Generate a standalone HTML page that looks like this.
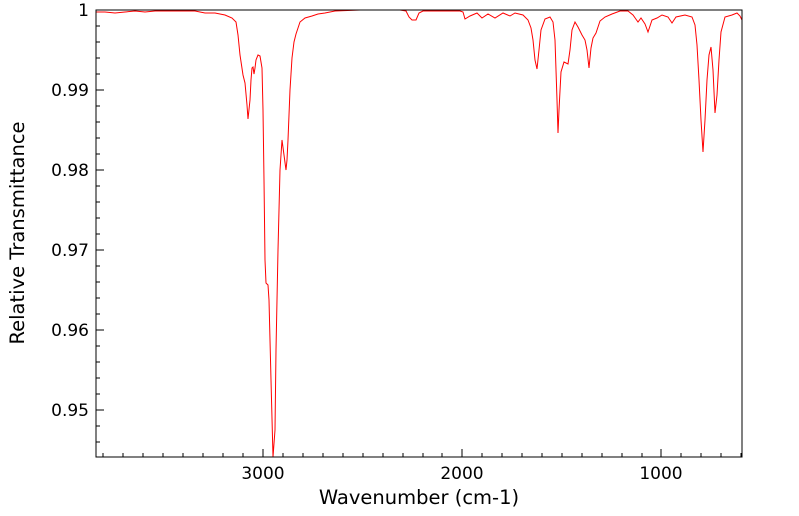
<!DOCTYPE html>
<html><head><meta charset="utf-8"><style>
body{margin:0;background:#fff;}
svg{display:block;font-family:"DejaVu Sans","Liberation Sans",sans-serif;}
</style></head><body>
<svg width="799" height="516" viewBox="0 0 799 516">
<g stroke="#000" stroke-width="1">
<path d="M96 26h4M96 42h4M96 58h4M96 74h4M96 106h4M96 122h4M96 138h4M96 154h4M96 186h4M96 202h4M96 218h4M96 234h4M96 266h4M96 282h4M96 298h4M96 314h4M96 346h4M96 362h4M96 378h4M96 394h4M96 426h4M96 442h4"/>
<path d="M96 10h8M96 90h8M96 170h8M96 250h8M96 330h8M96 410h8"/>
<path d="M263 457v-8M462 457v-8M661 457v-8"/>
<path d="M103 457v-4M123 457v-4M143 457v-4M163 457v-4M183 457v-4M203 457v-4M223 457v-4M243 457v-4M283 457v-4M303 457v-4M323 457v-4M343 457v-4M363 457v-4M383 457v-4M403 457v-4M423 457v-4M442 457v-4M482 457v-4M502 457v-4M522 457v-4M542 457v-4M562 457v-4M582 457v-4M602 457v-4M622 457v-4M642 457v-4M681 457v-4M701 457v-4M721 457v-4M741 457v-4"/>
</g>
<polyline fill="none" stroke="#ff0000" stroke-width="1" points="96,12 105,12 115,13 125,12 135,11 145,12 155,11 165,11 175,11 185,11 195,11 205,13 215,13 225,15 232,18 236,22 238,35 240,55 243,75 245,83 247,105 248,119 250,100 251,80 252,68 253,67 254,74 255,68 256,60 258,55 260,56 262,68 263,110 264,180 265,260 266,283 268,285 269,300 271,380 273,457 275,430 276,350 278,250 280,170 282,140 284,155 286,170 287,160 288,140 290,90 292,58 294,42 296,34 300,22 305,18 312,16 318,14 325,13 335,11 360,10 400,10 406,11 409,17 412,20 416,20 419,13 423,11 460,11 463,12 465,19 470,16 477,13 482,18 488,14 495,18 503,13 510,16 515,13 523,15 528,20 531,28 533,40 535,60 537,69 539,50 541,30 545,19 550,17 553,22 555,40 557,100 558,133 559,110 561,72 564,62 568,64 570,50 572,30 575,22 578,27 582,35 585,40 587,50 589,68 591,48 593,38 596,33 600,21 605,17 612,14 620,11 628,11 633,15 638,22 641,18 645,24 648,32 652,20 657,18 662,15 668,17 672,23 676,17 685,15 692,17 695,25 697,45 699,80 701,120 703,152 705,120 707,80 709,55 711,47 713,70 715,113 717,95 719,60 721,32 725,17 732,15 737,13 740,16 742,20"/>
<rect x="96" y="10" width="646" height="447" fill="none" stroke="#000" stroke-width="1"/>
<g font-size="17" fill="#000" text-anchor="end">
<text x="89" y="16">1</text>
<text x="89" y="96">0.99</text>
<text x="89" y="176">0.98</text>
<text x="89" y="256">0.97</text>
<text x="89" y="336">0.96</text>
<text x="89" y="416">0.95</text>
</g>
<g font-size="17" fill="#000" text-anchor="middle">
<text x="263" y="479">3000</text>
<text x="462" y="479">2000</text>
<text x="661" y="479">1000</text>
</g>
<g font-size="19.5" fill="#000" text-anchor="middle">
<text x="419" y="504">Wavenumber (cm-1)</text>
<text transform="translate(24,233) rotate(-90)">Relative Transmittance</text>
</g>
</svg>
</body></html>
